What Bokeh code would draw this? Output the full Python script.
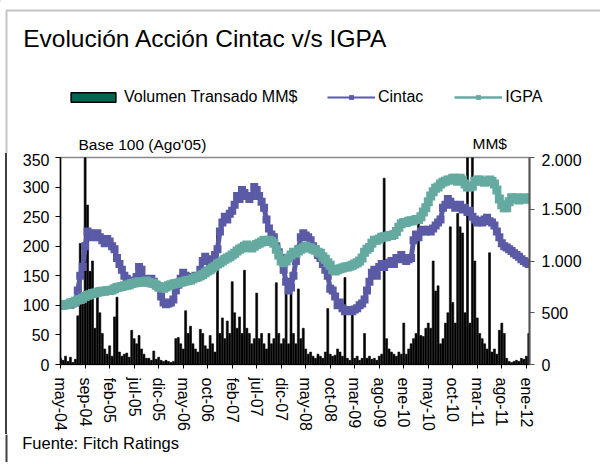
from bokeh.plotting import figure
from bokeh.layouts import column, row
from bokeh.models import (Range1d, LinearAxis, FixedTicker, Label, Legend, LegendItem,
                          PolyAnnotation, Span, ColumnDataSource, Div)
from bokeh.embed import file_html
from bokeh.resources import INLINE

# ---------------- data ----------------
x_labels = ["may-04", "sep-04", "feb-05", "jul-05", "dic-05", "may-06", "oct-06", "feb-07",
            "jul-07", "dic-07", "may-08", "oct-08", "mar-09", "ago-09", "ene-10", "may-10",
            "oct-10", "mar-11", "ago-11", "ene-12"]

cintac = [100, 100, 101, 102, 101, 103, 105, 125, 150, 165,
          200, 225, 222, 215, 220, 222, 215, 210, 205, 212,
          208, 200, 195, 180, 170, 160, 150, 145, 140, 142,
          138, 148, 165, 160, 145, 140, 140, 145, 140, 135,
          130, 115, 105, 102, 103, 105, 110, 125, 135, 145,
          155, 150, 145, 143, 148, 150, 148, 160, 175, 182,
          175, 170, 178, 185, 195, 225, 240, 250, 245, 255,
          260, 270, 285, 280, 295, 290, 285, 280, 285, 300,
          295, 285, 275, 265, 245, 230, 220, 215, 200, 190,
          180, 160, 140, 125, 130, 150, 175, 195, 215, 222,
          218, 215, 210, 200, 195, 185, 180, 170, 160, 150,
          128, 125, 115, 100, 105, 95, 90, 92, 92, 90,
          93, 95, 100, 103, 110, 125, 140, 155, 160, 150,
          165, 170, 165, 170, 172, 175, 170, 180, 178, 185,
          180, 175, 178, 180, 210, 220, 215, 225, 228, 225,
          228, 225, 230, 235, 240, 245, 265, 270, 280, 275,
          270, 265, 268, 270, 262, 265, 258, 260, 250, 245,
          240, 243, 240, 245, 248, 242, 240, 235, 225, 215,
          205, 200, 198, 195, 192, 188, 185, 182, 178, 175,
          172, 170, 172]

igpa = [100, 100, 101, 102, 104, 105, 107, 109, 110, 112,
        115, 117, 118, 120, 121, 122, 123, 124, 124, 125,
        125, 126, 128, 130, 131, 132, 133, 134, 135, 137,
        138, 139, 140, 139, 140, 141, 139, 138, 137, 134,
        132, 130, 129, 131, 133, 135, 136, 137, 138, 139,
        140, 141, 142, 143, 145, 147, 148, 150, 152, 155,
        158, 160, 163, 166, 170, 172, 175, 178, 180, 182,
        185, 188, 192, 195, 197, 200, 202, 198, 197, 200,
        203, 205, 207, 210, 208, 210, 208, 205, 195, 185,
        175, 172, 175, 180, 185, 190, 188, 192, 195, 197,
        200, 198, 197, 195, 193, 190, 188, 182, 178, 172,
        168, 160, 158, 160, 162, 163, 165, 165, 166, 168,
        170, 172, 175, 180, 190, 195, 198, 205, 210, 210,
        212, 215, 216, 216, 218, 218, 220, 225, 232, 238,
        240, 240, 242, 243, 243, 245, 245, 250, 258, 265,
        275, 285, 292, 298, 300, 305, 308, 310, 312, 312,
        315, 315, 310, 315, 312, 305, 300, 300, 302, 310,
        312, 312, 310, 308, 310, 312, 310, 305, 295, 280,
        270, 265, 265, 275, 282, 280, 282, 278, 280, 282,
        280, 280, 282]

volumen = [60, 40, 80, 30, 70, 20, 50, 470, 1170, 600,
           2100, 1540, 900, 1000, 350, 740, 500, 300, 150, 100,
           180, 80, 460, 650, 120, 80, 100, 110, 70, 330,
           250, 200, 280, 150, 100, 60, 60, 40, 130, 50,
           70, 40, 30, 40, 30, 20, 30, 250, 260, 200,
           150, 520, 300, 370, 200, 150, 120, 340, 300, 180,
           150, 280, 200, 120, 1260, 300, 450, 250, 420, 300,
           800, 500, 350, 460, 300, 910, 350, 300, 200, 250,
           690, 250, 300, 200, 150, 300, 200, 250, 790, 300,
           200, 250, 760, 200, 710, 300, 200, 730, 250, 350,
           150, 100, 120, 80, 60, 100, 80, 60, 120, 540,
           100, 80, 90, 150, 120, 80, 840, 60, 40, 490,
           60, 80, 40, 60, 300, 60, 80, 50, 60, 40,
           80, 100, 1800, 250, 150, 120, 100, 80, 120, 100,
           400, 100, 150, 200, 250, 300, 1460, 280, 270, 350,
           400, 350, 1000, 710, 760, 200, 250, 400, 500, 1330,
           600, 400, 1460, 1330, 1270, 500, 2100, 400, 2100, 1000,
           450, 300, 250, 200, 150, 1080, 120, 150, 100, 330,
           400, 300, 60, 30, 20, 30, 40, 30, 60, 50,
           80, 300, 400]

idx = list(range(len(cintac)))
tick_pos = [10 * k for k in range(len(x_labels))]
left_ticks = [0, 50, 100, 150, 200, 250, 300, 350]
right_ticks = [0, 500, 1000, 1500, 2000]
right_labels = ["0", "500", "1.000", "1.500", "2.000"]

PURPLE = "#5A5AA6"
TEAL = "#65AAA0"
FONT = "Liberation Sans"
FRAME = "#404040"

W = 600
TOP_H = 153
MAIN_H = 281
BOT_H = 28


def blank_fig(w, h):
    f = figure(width=w, height=h, output_backend="svg", toolbar_location=None,
               title=None, x_range=Range1d(0, w), y_range=Range1d(h, 0),
               x_axis_location=None, y_axis_location=None)
    f.min_border = 0
    f.xgrid.visible = False
    f.ygrid.visible = False
    f.outline_line_color = None
    f.background_fill_color = "white"
    f.border_fill_color = "white"
    return f


def text(f, x, y, s, size):
    f.add_layout(Label(x=x, y=y, text=s, text_font=FONT, text_font_size=size,
                       text_color="black", text_baseline="middle"))


# ---------------- header: title, legend, axis captions ----------------
top = blank_fig(W, TOP_H)
top.add_layout(PolyAnnotation(xs=[6, 6, 900, 900], ys=[900, 10, 10, 900],
                              fill_alpha=0, line_color=FRAME, line_width=2))
text(top, 22.7, 38.2, "Evolución Acción Cintac v/s IGPA", "24.5px")
text(top, 78, 143.6, "Base 100 (Ago'05)", "15.5px")
text(top, 472, 142.9, "MM$", "15.5px")

# legend symbols (one point each, placed outside the visible area)
d_bar = top.vbar(x=[-1000], top=[-1000], width=0.8, fill_color="#00664F",
                 line_color="black", line_width=1.5)
d_cl = top.line(x=[-1000, -999], y=[-1000, -1000], line_color=PURPLE, line_width=2)
d_cs = top.scatter(x=[-1000], y=[-1000], marker="square", size=5, fill_color=PURPLE,
                   line_color=None)
d_il = top.line(x=[-1000, -999], y=[-1000, -1000], line_color=TEAL, line_width=2.5)
d_is = top.scatter(x=[-1000], y=[-1000], marker="square", size=6, fill_color=TEAL,
                   line_color=None)

leg_common = dict(orientation="horizontal", padding=0, margin=0, border_line_color=None,
                  background_fill_alpha=0, label_text_font=FONT,
                  label_text_font_size="16px", label_text_color="black",
                  label_standoff=3, glyph_height=12, label_height=12)
leg1 = Legend(items=[LegendItem(label="Volumen Transado MM$", renderers=[d_bar])],
              location=(65, TOP_H - 106), glyph_width=56, **leg_common)
leg2 = Legend(items=[LegendItem(label="Cintac", renderers=[d_cl, d_cs]),
                     LegendItem(label="IGPA", renderers=[d_il, d_is])],
              location=(327, TOP_H - 106), glyph_width=48, spacing=31, **leg_common)
top.add_layout(leg1)
top.add_layout(leg2)

# ---------------- left edge of the outer frame beside the chart ----------------
strip = Div(text='<div style="margin-left:5px;width:0;height:%dpx;'
                 'border-left:2px solid %s"></div>' % (MAIN_H, FRAME),
            width=8, height=MAIN_H, margin=0)

# ---------------- main chart ----------------
src = ColumnDataSource(dict(x=idx, cintac=cintac, igpa=igpa, vol=volumen))

p = figure(width=W - 8, height=MAIN_H, output_backend="svg", toolbar_location=None,
           title=None, x_range=Range1d(-0.05, 191.3), y_range=Range1d(0, 350))
p.min_border = 0
p.min_border_left = 52
p.min_border_right = 71
p.min_border_top = 4
p.min_border_bottom = 70
p.xgrid.visible = False
p.ygrid.visible = False
p.outline_line_color = "#888888"
p.outline_line_width = 1.5
p.background_fill_color = "white"
p.border_fill_color = "white"

p.extra_y_ranges = {"vol": Range1d(0, 2000)}

p.vbar(x="x", top="vol", bottom=0, width=0.8, source=src, y_range_name="vol",
       fill_color="black", line_color="black", line_width=0.6)
p.line("x", "cintac", source=src, line_color=PURPLE, line_width=5)
p.scatter("x", "cintac", source=src, marker="square", size=8, fill_color=PURPLE,
          line_color=None)
p.line("x", "igpa", source=src, line_color=TEAL, line_width=6)
p.scatter("x", "igpa", source=src, marker="square", size=9, fill_color=TEAL,
          line_color=None)

xa = p.xaxis[0]
xa.ticker = FixedTicker(ticks=tick_pos)
xa.major_label_overrides = {t: l for t, l in zip(tick_pos, x_labels)}
xa.major_label_orientation = "vertical"
xa.major_label_text_font = FONT
xa.major_label_text_font_size = "16px"
xa.major_label_text_color = "black"
xa.major_tick_out = 4
xa.major_tick_in = 0
xa.minor_tick_out = 0
xa.minor_tick_in = 0
xa.major_label_standoff = 9
xa.axis_line_color = "black"
xa.major_tick_line_color = "black"

ya = p.yaxis[0]
ya.ticker = FixedTicker(ticks=left_ticks)
ya.major_label_text_font = FONT
ya.major_label_text_font_size = "16px"
ya.major_label_text_color = "black"
ya.major_tick_out = 5
ya.major_tick_in = 0
ya.minor_tick_out = 0
ya.minor_tick_in = 0
ya.major_label_standoff = 6
ya.axis_line_color = "black"
ya.axis_line_width = 1.5

ra = LinearAxis(y_range_name="vol", ticker=FixedTicker(ticks=right_ticks))
ra.major_label_overrides = {t: l for t, l in zip(right_ticks, right_labels)}
ra.major_label_text_font = FONT
ra.major_label_text_font_size = "16px"
ra.major_label_text_color = "black"
ra.major_tick_out = 5
ra.major_tick_in = 0
ra.minor_tick_out = 0
ra.minor_tick_in = 0
ra.major_label_standoff = 7
ra.axis_line_color = "#555555"
ra.axis_line_width = 2
ra.major_tick_line_color = "#555555"
p.add_layout(ra, "right")

# ---------------- footer ----------------
bot = blank_fig(W, BOT_H)
bot.add_layout(Span(location=6, dimension="height", line_color=FRAME, line_width=2))
text(bot, 21.7, 8.3, "Fuente: Fitch Ratings", "16.5px")

layout = column(top, row(strip, p, spacing=0), bot, spacing=0)

open("out.html", "w").write(file_html(layout, INLINE))
